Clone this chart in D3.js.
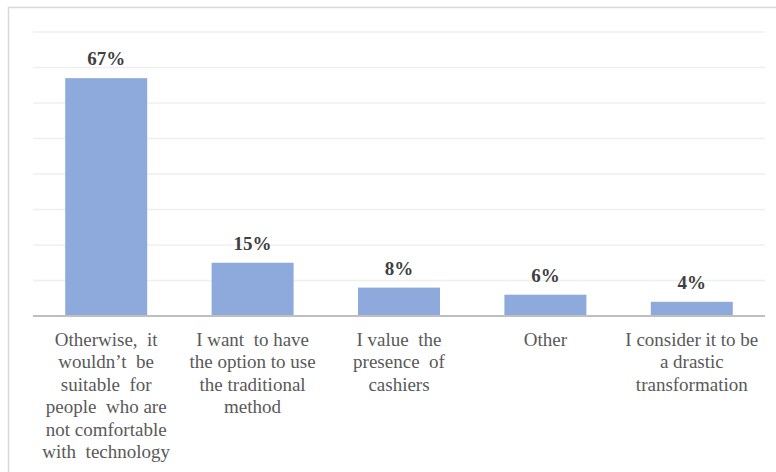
<!DOCTYPE html>
<html><head><meta charset="utf-8">
<script src="https://cdn.jsdelivr.net/npm/d3@7"></script>
<style>body{margin:0;background:#fff}svg{display:block}text{font-family:'Liberation Serif','Times New Roman',Times,serif}</style>
</head><body>
<script>
const categories = [
  ["Otherwise,  it", "wouldn\u2019t  be", "suitable  for", "people  who are", "not comfortable", "with  technology"],
  ["I want  to have", "the option to use", "the traditional", "method"],
  ["I value  the", "presence  of", "cashiers"],
  ["Other"],
  ["I consider it to be", "a drastic", "transformation"]
];
const values = [0.67, 0.15, 0.08, 0.06, 0.04];
const valueLabels = ["67%", "15%", "8%", "6%", "4%"];
const gridTicks = [0, 0.1, 0.2, 0.3, 0.4, 0.5, 0.6, 0.7, 0.8];

(function() {
const W = 776, H = 472;
const svg = d3.select("body").append("svg").attr("width", W).attr("height", H);
svg.append("rect").attr("x", 8.5).attr("y", 7.5).attr("width", W + 10).attr("height", H + 10)
  .attr("fill", "#fff").attr("stroke", "#d9d9d9").attr("stroke-width", 1.5);

const pl = 33, pr = 765, pt = 32, pb = 316;
const x = d3.scaleBand().domain(d3.range(values.length)).range([pl, pr]).paddingInner(0.44).paddingOuter(0.22);
const y = d3.scaleLinear().domain([0, 0.8]).range([pb, pt]);

svg.append("g").selectAll("line").data(gridTicks.slice(1)).join("line")
  .attr("x1", pl).attr("x2", pr).attr("y1", d => y(d)).attr("y2", d => y(d))
  .attr("stroke", "#efefef").attr("stroke-width", 1.3);

svg.append("g").selectAll("rect").data(values).join("rect")
  .attr("x", (d, i) => x(i)).attr("width", x.bandwidth())
  .attr("y", d => y(d)).attr("height", d => pb - y(d))
  .attr("fill", "#8eaadc");

svg.append("line").attr("x1", pl).attr("x2", pr).attr("y1", pb).attr("y2", pb)
  .attr("stroke", "#bfbfbf").attr("stroke-width", 2);

svg.append("g").selectAll("text").data(values).join("text")
  .attr("x", (d, i) => x(i) + x.bandwidth() / 2).attr("y", d => y(d) - 13)
  .attr("text-anchor", "middle")
  .attr("font-weight", "bold").attr("font-size", 19).attr("fill", "#404040")
  .text((d, i) => valueLabels[i]);

const cat = svg.append("g").selectAll("text").data(categories).join("text")
  .attr("text-anchor", "middle").attr("xml:space", "preserve").style("white-space", "pre")
  .attr("font-size", 19).attr("fill", "#595959");
cat.each(function(lines, i) {
  d3.select(this).selectAll("tspan").data(lines).join("tspan")
    .attr("x", x(i) + x.bandwidth() / 2).attr("y", (l, j) => pb + 30 + j * 22.4)
    .text(l => l);
});
})();
</script>
</body></html>
